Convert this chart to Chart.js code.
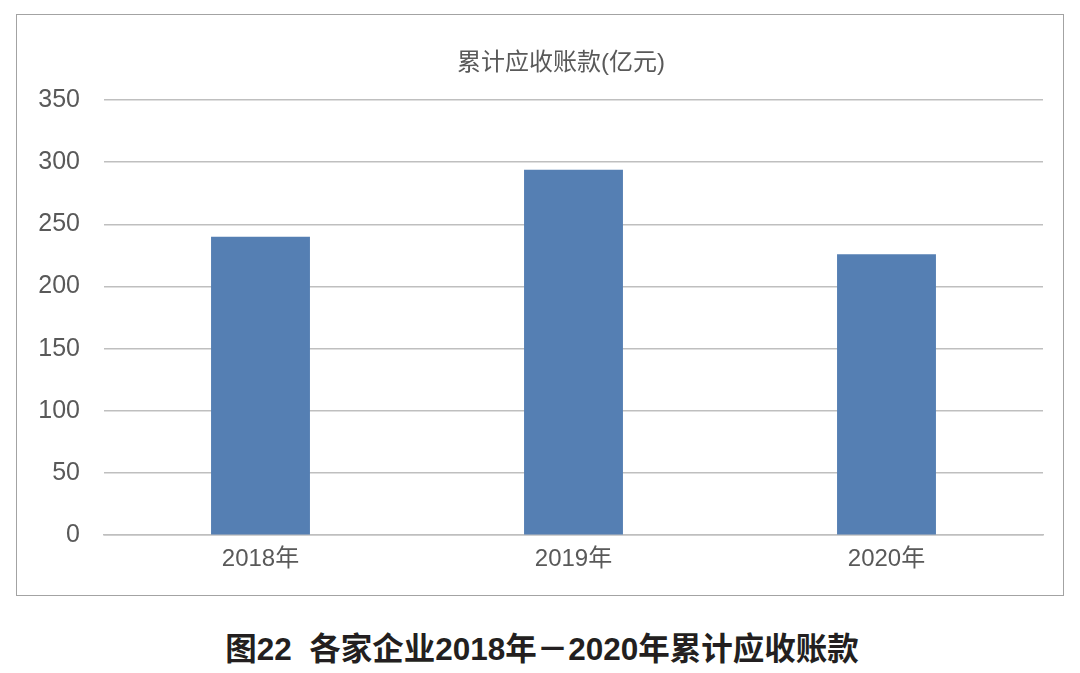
<!DOCTYPE html>
<html>
<head>
<meta charset="utf-8">
<script src="https://cdn.jsdelivr.net/npm/chart.js@4"></script>
<style>
  html, body { margin: 0; padding: 0; background: #fff; }
  body { width: 1080px; height: 673px; position: relative; overflow: hidden; }
  #frame { position: absolute; left: 16px; top: 14px; width: 1046px; height: 580px; border: 1.5px solid #a3a3a3; }
  #frame canvas { display: block; }
  #title { position: absolute; left: 361px; width: 400px; top: 42px; text-align: center;
           font: 24px 'Liberation Sans', 'Noto Sans CJK SC', sans-serif; color: #595959; }
  #caption { position: absolute; left: 0; width: 1084px; top: 623px; text-align: center;
             font: bold 31.5px 'Liberation Sans', 'Noto Sans CJK SC', sans-serif; color: #231f20; }
</style>
</head>
<body>
<div id="frame"><canvas id="chart" width="1046" height="580"></canvas></div>
<div id="title"></div>
<div id="caption">图22&nbsp;&nbsp;各家企业2018年－2020年累计应收账款</div>
<script>
const years = ['2018年', '2019年', '2020年'];
const receivables = [240, 294, 226];
const chartTitle = '累计应收账款(亿元)';

const fontFamily = "'Liberation Sans', 'Noto Sans CJK SC', sans-serif";
const textColor = '#595959';

document.getElementById('title').textContent = chartTitle;

const ctx = document.getElementById('chart');
new Chart(ctx, {
    type: 'bar',
    data: {
        labels: years,
        datasets: [
            { label: chartTitle, data: receivables, backgroundColor: '#557fb3', borderWidth: 0,
              categoryPercentage: 1, barPercentage: 0.316 }
        ]
    },
    options: {
        responsive: false,
        animation: false,
        layout: { padding: { left: 0, right: 20, top: 85, bottom: 11 } },
        plugins: {
            legend: { display: false },
            tooltip: { enabled: false },
            title: { display: false }
        },
        scales: {
            y: {
                min: 0, max: 350,
                ticks: { stepSize: 50, color: textColor, padding: 24,
                         font: { family: fontFamily, size: 25 } },
                grid: { color: '#bfbfbf', lineWidth: 1.5, drawTicks: false },
                border: { display: false },
                afterFit: s => { s.width = 87; }
            },
            x: {
                ticks: { color: textColor, padding: 10, font: { family: fontFamily, size: 24 } },
                grid: { display: false, drawTicks: false },
                border: { display: true, color: '#bfbfbf', width: 1.5 }
            }
        }
    }
});
</script>
</body>
</html>
